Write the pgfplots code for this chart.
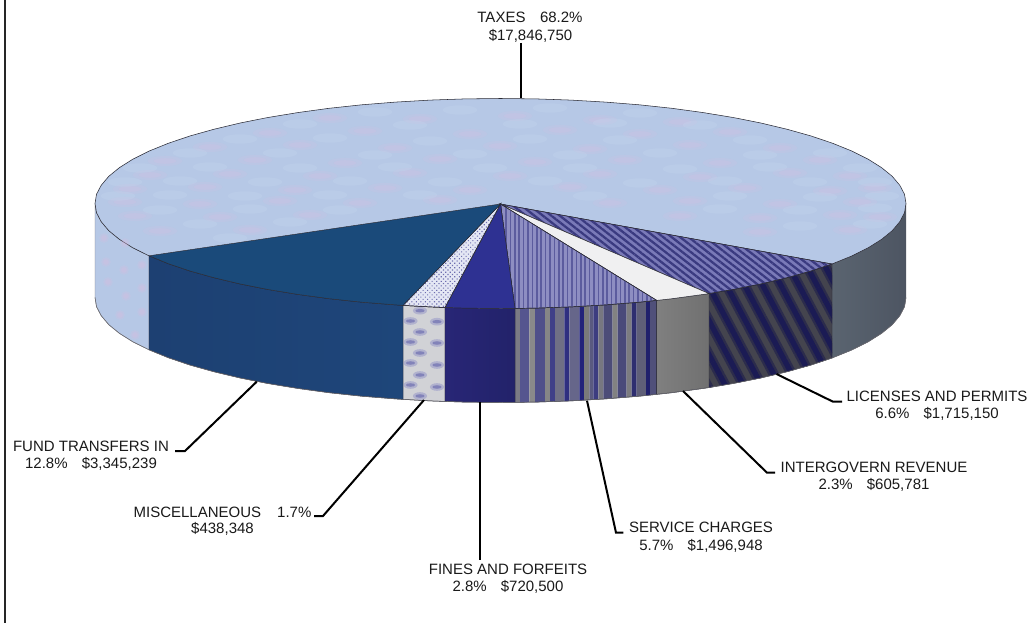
\documentclass[border=0pt]{standalone}
\usepackage{pgfplots}
\pgfplotsset{compat=1.18}
\usepackage{fontspec}
\setmainfont{Liberation Sans}
\usetikzlibrary{patterns.meta}

\definecolor{taxTop}{HTML}{B6C8E6}
\definecolor{taxPink}{HTML}{DDBBE0}
\definecolor{taxPale}{HTML}{C8D9F0}
\definecolor{rim}{HTML}{2A2A34}
\definecolor{txt}{HTML}{1A1A1A}

% Service Charges wall colours, left to right
\definecolor{s1}{HTML}{7A7A85}\definecolor{s2}{HTML}{55558F}\definecolor{s3}{HTML}{8A8A8A}
\definecolor{s4}{HTML}{50508A}\definecolor{s5}{HTML}{868686}\definecolor{s6}{HTML}{3F3F88}
\definecolor{s7}{HTML}{6F6F85}\definecolor{s8}{HTML}{2F2F80}\definecolor{s9}{HTML}{66668A}
\definecolor{s10}{HTML}{23237A}\definecolor{s11}{HTML}{7A7A7A}\definecolor{s12}{HTML}{5A5A80}
\definecolor{s13}{HTML}{3D3D80}\definecolor{s14}{HTML}{777780}\definecolor{s15}{HTML}{4C4C78}
\definecolor{s16}{HTML}{828282}\definecolor{s17}{HTML}{4A4A7A}\definecolor{s18}{HTML}{7C7C80}
\definecolor{s19}{HTML}{2E2E70}\definecolor{s20}{HTML}{5F5F78}\definecolor{s21}{HTML}{20206C}
\definecolor{s22}{HTML}{50507A}

% soft spots on the large slice, as (x,y) in picture units
\pgfplotstableread{
x y
330 118
420 119
515 116
600 120
680 122
270 133
365 131
470 134
560 130
640 134
730 132
210 147
300 145
395 148
500 146
590 149
690 145
780 148
165 161
255 160
345 163
440 159
535 162
625 160
720 163
820 160
150 175
230 174
320 176
410 173
510 176
600 174
700 177
790 173
850 176
130 189
205 187
295 190
385 188
470 190
570 187
660 190
745 188
830 191
875 188
125 202
200 204
280 201
360 203
440 200
610 203
690 201
780 204
860 202
135 216
220 217
310 215
680 216
760 218
840 215
880 217
160 231
250 230
760 232
850 230
}\pinkspots
\pgfplotstableread{
x y
375 112
460 110
550 108
640 113
300 124
410 125
520 124
610 123
700 125
240 139
330 138
430 141
530 139
620 140
750 140
190 153
280 153
375 155
470 154
570 155
660 153
760 155
830 153
140 168
210 167
300 168
395 167
490 168
580 168
680 169
770 167
860 168
125 182
180 181
265 182
350 181
445 182
545 181
640 183
725 181
810 182
875 182
118 196
170 195
245 196
330 195
420 195
590 196
730 196
820 197
882 196
160 210
250 209
340 210
720 209
800 210
875 208
200 224
290 222
800 226
870 224
230 238
}\palespots
% mottling of the wall on the left
\pgfplotstableread{
x y
104 238
125 243
142 265
106 262
124 270
142 288
108 282
126 296
142 312
120 315
135 335
}\wallspots
% print of the Miscellaneous wall
\pgfplotstableread{
x y
420 310.7
420 332
420 353
420 375
420 396
437 321.7
437 343
437 365
437 387
410.5 321
410.5 342
410.5 363
410.5 385
}\miscspots

% one vertical band of the Service Charges wall: x1 x2 top1 top2 bottom1 bottom2 colour
\newcommand{\band}[7]{\addplot[fill=#7,draw=none] coordinates {(#1,#3)(#2,#4)(#2,#6)(#1,#5)} -- cycle;}

\tikzset{lbl/.style={font=\fontsize{11.25}{13}\selectfont, text=txt, inner sep=0pt, anchor=center}}

\begin{document}
\begin{tikzpicture}
\begin{axis}[
  scale only axis, width=775.5pt, height=467.25pt,
  xmin=0, xmax=1034, ymin=0, ymax=623, y dir=reverse,
  hide axis,
]
% page and frame
\addplot[draw=none,fill=white] coordinates {(0,0)(1034,0)(1034,623)(0,623)} -- cycle;
\addplot[draw=black!85,line width=1.4pt] coordinates {(5,0)(5,623)};

% ---- walls ----
% Taxes, left part
\addplot[fill=taxTop,draw=rim!60,line width=0.35pt] coordinates {(95,203.5)(96.5,212.7)(101.2,221.7)(108.8,230.7)(119.5,239.4)(133,247.9)(149,255.8)(149,349.8)(133,341.9)(119.5,333.4)(108.8,324.7)(101.2,315.7)(96.5,306.7)(95,297.5)} -- cycle;
\addplot[only marks,mark=*,mark size=3.6pt,mark options={fill=taxPink,draw opacity=0,fill opacity=0.2}] table[x=x,y=y] {\wallspots};
\addplot[only marks,mark=*,mark size=2.2pt,mark options={fill=taxPink,draw opacity=0,fill opacity=0.25}] table[x=x,y=y] {\wallspots};
% Taxes, right part
\addplot[left color={rgb,255:red,90;green,100;blue,112},middle color={rgb,255:red,98;green,108;blue,120},right color={rgb,255:red,77;green,85;blue,98},draw=rim!80,line width=0.35pt] coordinates {(832,264)(851.7,256)(868,247.9)(881.5,239.4)(892.2,230.7)(899.8,221.7)(904.5,212.7)(906,203.5)(906,297.5)(904.5,306.7)(899.8,315.7)(892.2,324.7)(881.5,333.4)(868,341.9)(851.7,350)(832,358)} -- cycle;
% Licenses and Permits: base, wide soft stripes, narrow dark stripes
\addplot[fill={rgb,255:red,68;green,68;blue,78},draw=none] coordinates {(709,293.6)(733.1,289.5)(761.2,283.9)(787.2,277.7)(811.1,271)(832,264)(832,358)(811.1,365)(787.2,371.7)(761.2,377.9)(733.1,383.5)(709,387.6)} -- cycle;
\addplot[pattern={Lines[angle=-62,distance=12pt,line width=7.5pt]},pattern color={rgb,255:red,44;green,44;blue,76},draw=none] coordinates {(709,293.6)(733.1,289.5)(761.2,283.9)(787.2,277.7)(811.1,271)(832,264)(832,358)(811.1,365)(787.2,371.7)(761.2,377.9)(733.1,383.5)(709,387.6)} -- cycle;
\addplot[pattern={Lines[angle=-62,distance=12pt,line width=4pt]},pattern color={rgb,255:red,27;green,27;blue,84},draw=rim,line width=0.35pt] coordinates {(709,293.6)(733.1,289.5)(761.2,283.9)(787.2,277.7)(811.1,271)(832,264)(832,358)(811.1,365)(787.2,371.7)(761.2,377.9)(733.1,383.5)(709,387.6)} -- cycle;
% Intergovernmental Revenue
\addplot[left color=black!50,middle color=black!44,right color=black!56,draw=rim,line width=0.35pt] coordinates {(656.7,300.4)(671.9,298.7)(703.3,294.4)(709,293.6)(709,387.6)(703.3,388.4)(671.9,392.7)(656.7,394.4)} -- cycle;
% Service Charges, built from vertical bands
\band{515}{520}{308.4}{308.4}{402.4}{402.4}{s1}
\band{520}{529.3}{308.4}{308.2}{402.4}{402.2}{s2}
\band{529.3}{535}{308.2}{308.1}{402.2}{402.1}{s3}
\band{535}{545}{308.1}{307.9}{402.1}{401.9}{s4}
\band{545}{550}{307.9}{307.7}{401.9}{401.7}{s5}
\band{550}{555}{307.7}{307.55}{401.7}{401.55}{s6}
\band{555}{564.3}{307.55}{307.2}{401.55}{401.2}{s7}
\band{564.3}{569.3}{307.2}{307}{401.2}{401}{s8}
\band{569.3}{579.3}{307}{306.5}{401}{400.5}{s9}
\band{579.3}{584}{306.5}{306.25}{400.5}{400.25}{s10}
\band{584}{589.3}{306.25}{305.95}{400.25}{399.95}{s11}
\band{589.3}{593.3}{305.95}{305.7}{399.95}{399.7}{s12}
\band{593.3}{598.3}{305.7}{305.4}{399.7}{399.4}{s13}
\band{598.3}{603.3}{305.4}{305.07}{399.4}{399.07}{s14}
\band{603.3}{612.7}{305.07}{304.4}{399.07}{398.4}{s15}
\band{612.7}{617.7}{304.4}{304}{398.4}{398}{s16}
\band{617.7}{626.7}{304}{303.3}{398}{397.3}{s17}
\band{626.7}{631.7}{303.3}{302.86}{397.3}{396.86}{s18}
\band{631.7}{636.7}{302.86}{302.4}{396.86}{396.4}{s19}
\band{636.7}{646}{302.4}{301.5}{396.4}{395.5}{s20}
\band{646}{650}{301.5}{301.1}{395.5}{395.1}{s21}
\band{650}{656.7}{301.1}{300.4}{395.1}{394.4}{s22}
\addplot[draw=rim,line width=0.35pt] coordinates {(515,308.4)(535.9,308.1)(570.9,306.9)(605.4,304.9)(639.2,302.2)(656.7,300.4)(656.7,394.4)(639.2,396.2)(605.4,398.9)(570.9,400.9)(535.9,402.1)(515,402.4)} -- cycle;
% Miscellaneous
\addplot[fill={rgb,255:red,209;green,210;blue,214},draw=rim,line width=0.35pt] coordinates {(403,305.4)(430.1,306.9)(445,307.5)(445,401.5)(430.1,400.9)(403,399.4)} -- cycle;
\addplot[only marks,mark=*,mark size=4.4pt,mark options={xscale=1.2,yscale=0.65,fill={rgb,255:red,130;green,130;blue,195},draw opacity=0,fill opacity=0.4}] table[x=x,y=y] {\miscspots};
\addplot[only marks,mark=*,mark size=2.2pt,mark options={xscale=1.6,yscale=0.6,fill={rgb,255:red,85;green,85;blue,165},draw opacity=0,fill opacity=0.5}] table[x=x,y=y] {\miscspots};
% Fund Transfers In
\addplot[left color={rgb,255:red,29;green,64;blue,114},right color={rgb,255:red,30;green,70;blue,122},draw=rim,line width=0.35pt] coordinates {(149,255.8)(168.3,263.7)(189.9,271)(213.8,277.7)(239.8,283.9)(267.9,289.5)(297.7,294.4)(329.1,298.7)(361.8,302.2)(395.6,304.9)(403,305.4)(403,399.4)(395.6,398.9)(361.8,396.2)(329.1,392.7)(297.7,388.4)(267.9,383.5)(239.8,377.9)(213.8,371.7)(189.9,365)(168.3,357.7)(149,349.8)} -- cycle;
% Fines and Forfeits
\addplot[left color={rgb,255:red,40;green,38;blue,118},right color={rgb,255:red,34;green,34;blue,106},draw=rim,line width=0.35pt] coordinates {(445,307.5)(465.1,308.1)(500.5,308.5)(515,308.4)(515,402.4)(500.5,402.5)(465.1,402.1)(445,401.5)} -- cycle;

% ---- top face ----
% Taxes
\addplot[fill=taxTop,draw=none] coordinates {(500.5,204)(832,264)(851.7,256)(868,247.9)(881.5,239.4)(892.2,230.7)(899.8,221.7)(904.5,212.7)(906,203.5)(904.5,194.3)(899.8,185.3)(892.2,176.3)(881.5,167.6)(868,159.1)(851.7,151)(832.7,143.3)(811.1,136)(787.2,129.3)(761.2,123.1)(733.1,117.5)(703.3,112.6)(671.9,108.3)(639.2,104.8)(605.4,102.1)(570.9,100.1)(535.9,98.9)(500.5,98.5)(465.1,98.9)(430.1,100.1)(395.6,102.1)(361.8,104.8)(329.1,108.3)(297.7,112.6)(267.9,117.5)(239.8,123.1)(213.8,129.3)(189.9,136)(168.3,143.3)(149.3,151)(133,159.1)(119.5,167.6)(108.8,176.3)(101.2,185.3)(96.5,194.3)(95,203.5)(96.5,212.7)(101.2,221.7)(108.8,230.7)(119.5,239.4)(133,247.9)(149,255.8)} -- cycle;
\addplot[only marks,mark=*,mark size=5pt,mark options={xscale=2.6,yscale=0.75,fill=taxPink,draw opacity=0,fill opacity=0.14}] table[x=x,y=y] {\pinkspots};
\addplot[only marks,mark=*,mark size=3pt,mark options={xscale=2.8,yscale=0.7,fill=taxPink,draw opacity=0,fill opacity=0.18}] table[x=x,y=y] {\pinkspots};
\addplot[only marks,mark=*,mark size=5pt,mark options={xscale=2.6,yscale=0.7,fill=taxPale,draw opacity=0,fill opacity=0.25}] table[x=x,y=y] {\palespots};
\addplot[draw=rim,line width=0.4pt] coordinates {(149,255.8)(133,247.9)(119.5,239.4)(108.8,230.7)(101.2,221.7)(96.5,212.7)(95,203.5)(96.5,194.3)(101.2,185.3)(108.8,176.3)(119.5,167.6)(133,159.1)(149.3,151)(168.3,143.3)(189.9,136)(213.8,129.3)(239.8,123.1)(267.9,117.5)(297.7,112.6)(329.1,108.3)(361.8,104.8)(395.6,102.1)(430.1,100.1)(465.1,98.9)(500.5,98.5)(535.9,98.9)(570.9,100.1)(605.4,102.1)(639.2,104.8)(671.9,108.3)(703.3,112.6)(733.1,117.5)(761.2,123.1)(787.2,129.3)(811.1,136)(832.7,143.3)(851.7,151)(868,159.1)(881.5,167.6)(892.2,176.3)(899.8,185.3)(904.5,194.3)(906,203.5)(904.5,212.7)(899.8,221.7)(892.2,230.7)(881.5,239.4)(868,247.9)(851.7,256)(832,264)};
% Licenses and Permits
\addplot[preaction={fill={rgb,255:red,122;green,122;blue,184}},pattern={Lines[angle=-38,distance=3.9pt,line width=1.7pt]},pattern color={rgb,255:red,58;green,58;blue,128},draw=rim,line width=0.35pt] coordinates {(500.5,204)(832,264)(811.1,271)(787.2,277.7)(761.2,283.9)(733.1,289.5)(709,293.6)} -- cycle;
% Intergovernmental Revenue
\addplot[fill={rgb,255:red,240;green,240;blue,241},draw=rim,line width=0.35pt] coordinates {(500.5,204)(709,293.6)(703.3,294.4)(671.9,298.7)(656.7,300.4)} -- cycle;
% Service Charges
\addplot[preaction={fill={rgb,255:red,142;green,142;blue,194}},pattern={Lines[angle=90,distance=3.3pt,line width=1.1pt]},pattern color={rgb,255:red,92;green,92;blue,158},draw=rim,line width=0.35pt] coordinates {(500.5,204)(656.7,300.4)(639.2,302.2)(605.4,304.9)(570.9,306.9)(535.9,308.1)(515,308.4)} -- cycle;
% Fines and Forfeits
\addplot[fill={rgb,255:red,46;green,49;blue,146},draw=rim,line width=0.35pt] coordinates {(500.5,204)(515,308.4)(500.5,308.5)(465.1,308.1)(445,307.5)} -- cycle;
% Miscellaneous
\addplot[preaction={fill={rgb,255:red,228;green,231;blue,244}},pattern={Dots[radius=0.6pt,distance=2.4pt,angle=45]},pattern color={rgb,255:red,110;green,110;blue,175},draw=rim,line width=0.35pt] coordinates {(500.5,204)(445,307.5)(430.1,306.9)(403,305.4)} -- cycle;
% Fund Transfers In
\addplot[fill={rgb,255:red,26;green,74;blue,122},draw=rim,line width=0.35pt] coordinates {(500.5,204)(403,305.4)(395.6,304.9)(361.8,302.2)(329.1,298.7)(297.7,294.4)(267.9,289.5)(239.8,283.9)(213.8,277.7)(189.9,271)(168.3,263.7)(149,255.8)} -- cycle;

% outer edge along the bottom of the wall
\addplot[draw=rim!70,line width=0.4pt] coordinates {(95,297.5)(96.5,306.7)(101.2,315.7)(108.8,324.7)(119.5,333.4)(133,341.9)(149,349.8)(168.3,357.7)(189.9,365)(213.8,371.7)(239.8,377.9)(267.9,383.5)(297.7,388.4)(329.1,392.7)(361.8,396.2)(395.6,398.9)(430.1,400.9)(465.1,402.1)(500.5,402.5)(535.9,402.1)(570.9,400.9)(605.4,398.9)(639.2,396.2)(671.9,392.7)(703.3,388.4)(733.1,383.5)(761.2,377.9)(787.2,371.7)(811.1,365)(832,358)(851.7,350)(868,341.9)(881.5,333.4)(892.2,324.7)(899.8,315.7)(904.5,306.7)(906,297.5)};

% ---- leader lines ----
\addplot[black,line width=1.5pt] coordinates {(520.5,43)(520.5,98.5)};
\addplot[black,line width=1.5pt] coordinates {(776.5,374)(833,401.7)(842,401.7)};
\addplot[black,line width=1.5pt] coordinates {(683,391)(767,472.7)(775,472.7)};
\addplot[black,line width=1.5pt] coordinates {(587,400.7)(616,532.7)(623.3,532.7)};
\addplot[black,line width=1.5pt] coordinates {(480,401.7)(480,560)};
\addplot[black,line width=1.5pt] coordinates {(424,400)(323,516)(314,516)};
\addplot[black,line width=1.5pt] coordinates {(256.7,381.7)(185,451)(175,451)};

% ---- labels ----
\node[lbl] at (axis cs:530,17) {TAXES\hspace{10.9pt}68.2\%};
\node[lbl] at (axis cs:530.5,36) {\$17,846,750};
\node[lbl] at (axis cs:937,396) {LICENSES AND PERMITS};
\node[lbl] at (axis cs:937,414) {6.6\%\hspace{10.6pt}\$1,715,150};
\node[lbl] at (axis cs:874,467) {INTERGOVERN REVENUE};
\node[lbl] at (axis cs:874,485) {2.3\%\hspace{10.6pt}\$605,781};
\node[lbl] at (axis cs:701,527) {SERVICE CHARGES};
\node[lbl] at (axis cs:701,546) {5.7\%\hspace{10.6pt}\$1,496,948};
\node[lbl] at (axis cs:508,569) {FINES AND FORFEITS};
\node[lbl] at (axis cs:508,587) {2.8\%\hspace{10.6pt}\$720,500};
\node[lbl] at (axis cs:222.5,512) {MISCELLANEOUS\hspace{12pt}1.7\%};
\node[lbl] at (axis cs:222.5,529) {\$438,348};
\node[lbl] at (axis cs:91,446) {FUND TRANSFERS IN};
\node[lbl] at (axis cs:91,464) {12.8\%\hspace{10.6pt}\$3,345,239};
\end{axis}
\end{tikzpicture}
\end{document}
